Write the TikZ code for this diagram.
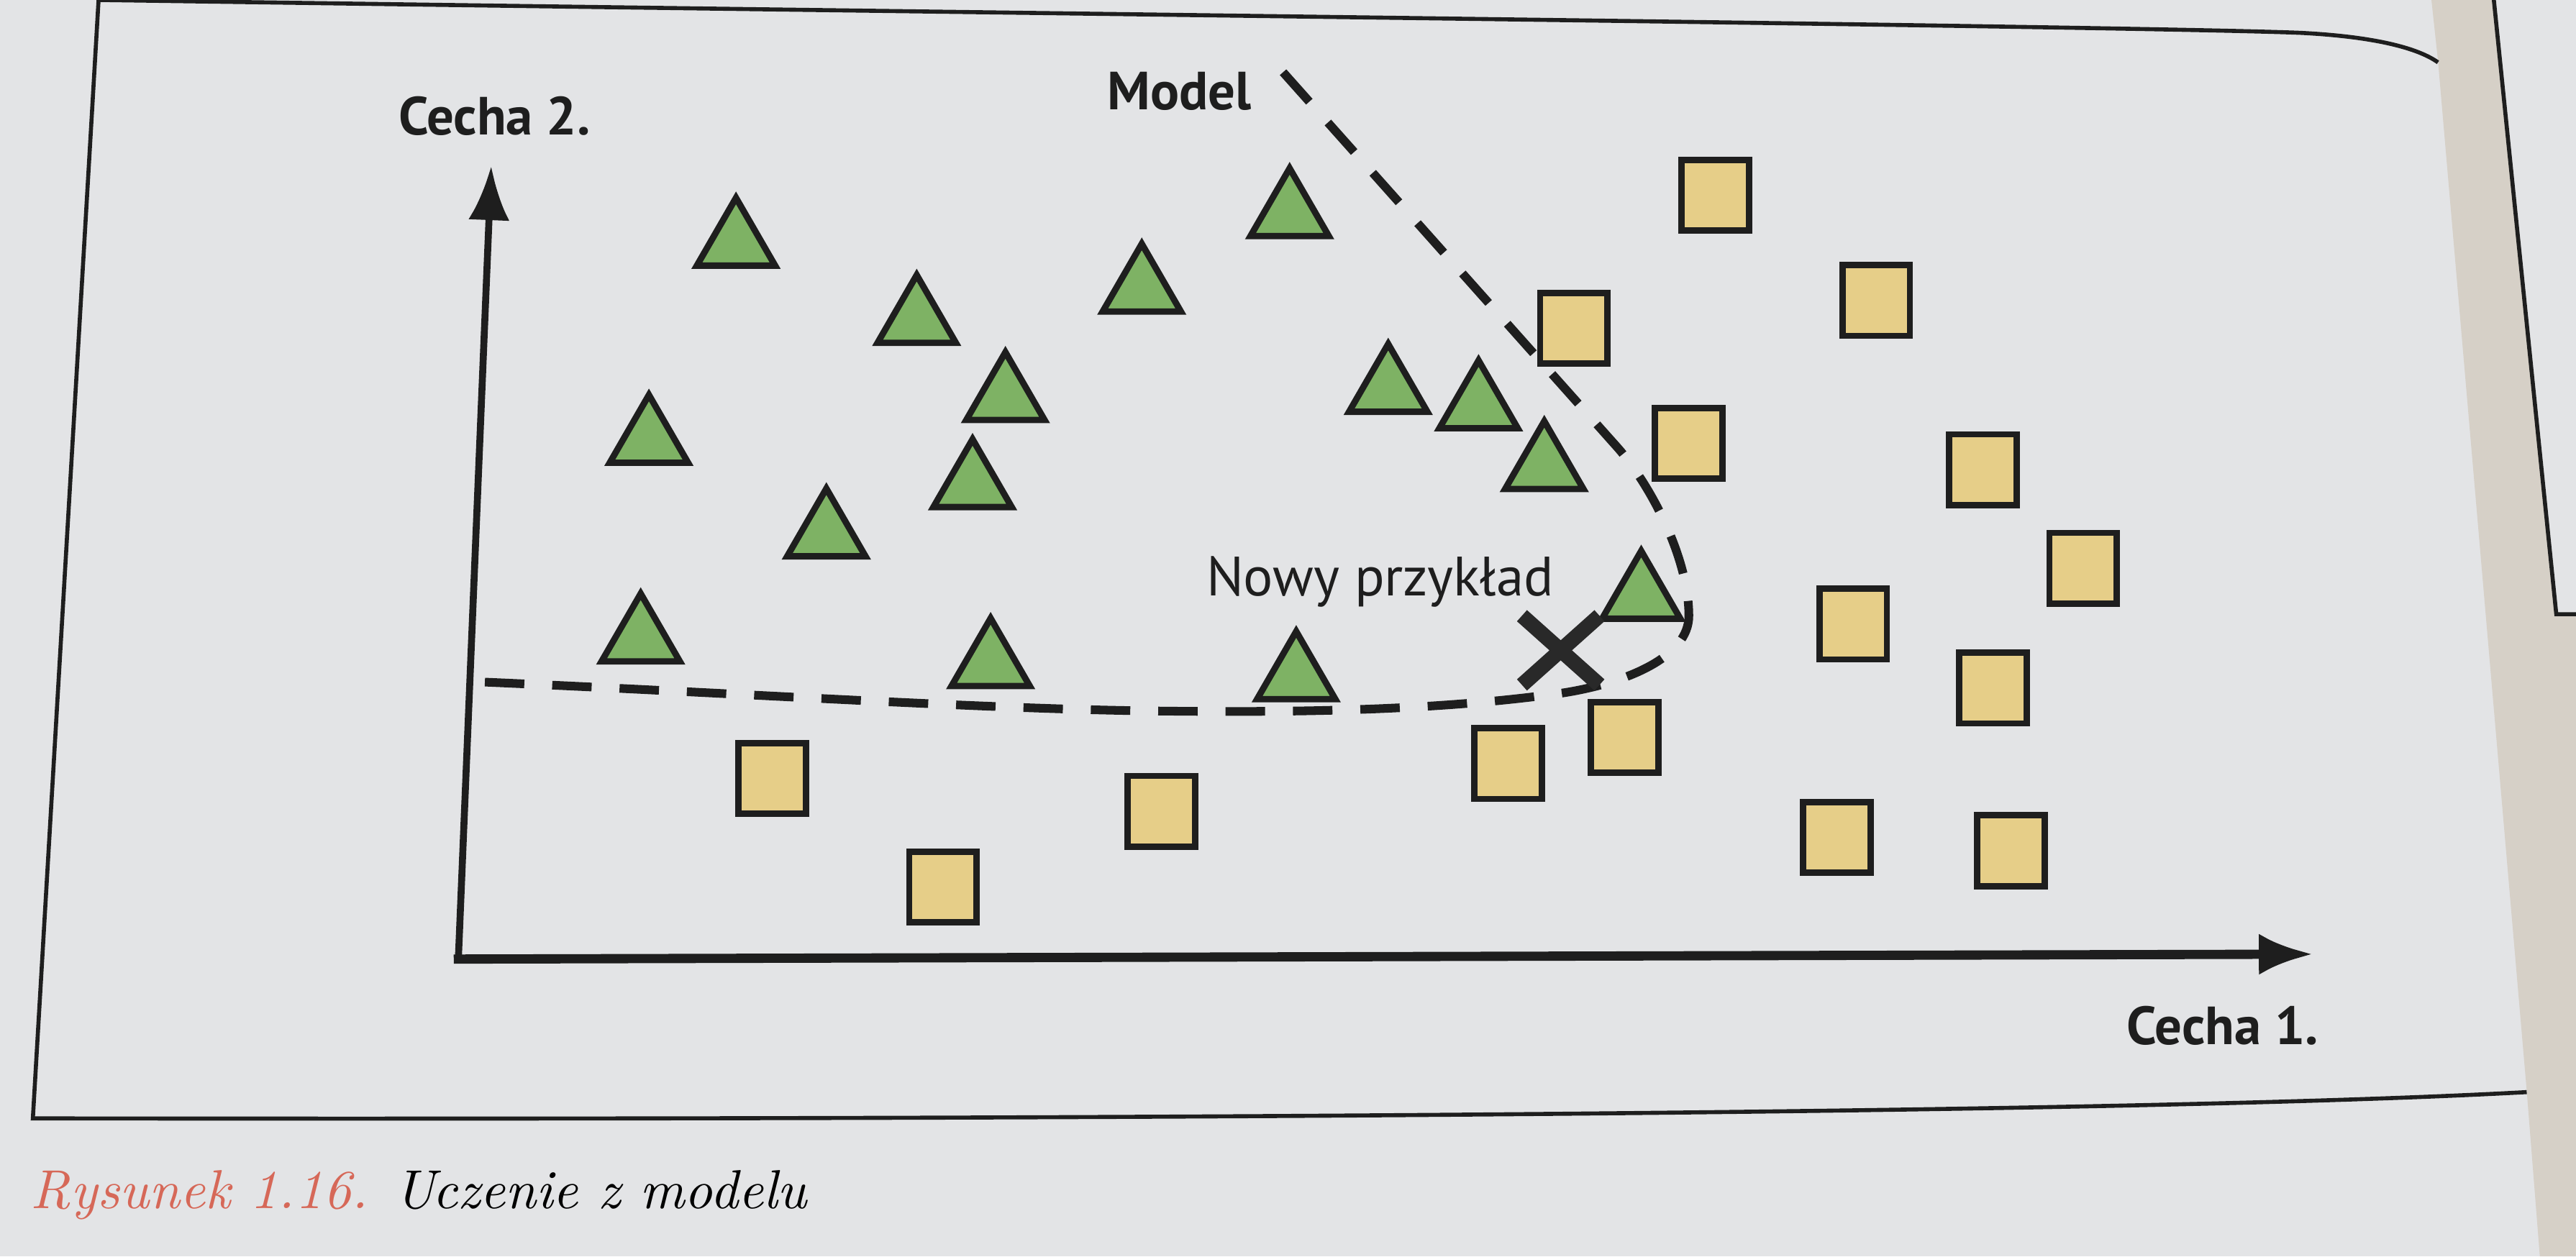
\documentclass[tikz,border=0pt]{standalone}
\usepackage{fontspec}
\setsansfont{PT Sans}
\usetikzlibrary{arrows.meta,shapes.geometric,shapes.misc}
\definecolor{paper}{RGB}{227,228,230}
\definecolor{gutter}{RGB}{214,208,199}
\definecolor{trigreen}{RGB}{126,178,100}
\definecolor{sqyellow}{RGB}{230,206,136}
\definecolor{ink}{RGB}{30,30,30}
\definecolor{capred}{RGB}{214,104,88}

\begin{document}
\begin{tikzpicture}[x=0.01cm, y=-0.01cm]
\tikzstyle{tri}=[regular polygon, regular polygon sides=3, minimum size=5.5mm, inner sep=0pt, fill=trigreen, draw=ink, line width=1.1pt]
\tikzstyle{sq}=[rectangle, minimum width=4.1mm, minimum height=4.3mm, inner sep=0pt, fill=sqyellow, draw=ink, line width=1.1pt]
\tikzstyle{axis}=[-{Latex[length=3.3mm,width=2.5mm]}, ink, line cap=rect]
\tikzstyle{boundary}=[ink, line width=1.5pt, dash pattern=on 2.4mm off 1.7mm]
\tikzstyle{lbl}=[font=\sffamily\bfseries\fontsize{9.3}{11}\selectfont, text=ink, inner sep=0pt, anchor=base]
\tikzstyle{frame}=[ink, line width=0.7pt]

  % page and gutter
  \useasboundingbox (0,0) rectangle (1568,765);
  \fill[paper] (0,0) rectangle (1568,765);
  \fill[gutter] (1480,0) -- (1484,37) -- (1538,664) -- (1546,765) -- (1568,765)
    -- (1568,374) -- (1556,374) -- (1518,0) -- cycle;

  % frame
  \draw[frame] (60,0) -- (20,681) .. controls (700,682) and (1300,678) .. (1538,665);
  \draw[frame] (60,0) .. controls (600,8) and (1300,16) .. (1400,20)
    .. controls (1440,22) and (1470,28) .. (1484,38);
  \draw[frame] (1518,0) -- (1556,374) -- (1568,374);

  % axes
  \coordinate (origin) at (279,584);
  \coordinate (ytip)   at (299,101);
  \coordinate (xtip)   at (1408,581);
  \draw[axis, line width=1.2pt] (origin) -- (ytip);
  \draw[axis, line width=1.6pt] (origin) -- (xtip);

  \node[lbl] (cecha2) at (301,82)  {Cecha 2.};
  \node[lbl] (cecha1) at (1353,636) {Cecha 1.};
  \node[lbl] (model)  at (718,67)  {Model};

  % model boundary
  \coordinate (bdtop)  at (781,44);
  \coordinate (bdleft) at (287,415);
  \draw[boundary] (bdtop) -- (985,273) .. controls (1005,296) and (1028,340) .. (1028,375)
    .. controls (1028,400) and (990,416) .. (951,422)
    .. controls (880,432) and (800,434) .. (709,433)
    .. controls (600,432) and (450,422) .. (bdleft);

  % triangles
  \node[tri] (tri1)  at (448,148) {};
  \node[tri] (tri2)  at (558,195) {};
  \node[tri] (tri3)  at (612,242) {};
  \node[tri] (tri4)  at (695,176) {};
  \node[tri] (tri5)  at (785,130) {};
  \node[tri] (tri6)  at (395,268) {};
  \node[tri] (tri7)  at (592,295) {};
  \node[tri] (tri8)  at (503,325) {};
  \node[tri] (tri9)  at (390,389) {};
  \node[tri] (tri10) at (603,404) {};
  \node[tri] (tri11) at (789,412) {};
  \node[tri] (tri12) at (845,237) {};
  \node[tri] (tri13) at (900,247) {};
  \node[tri] (tri14) at (940,284) {};
  \node[tri] (tri15) at (999,363) {};

  % squares
  \node[sq] (sq1)  at (1044,119) {};
  \node[sq] (sq2)  at (1142,183) {};
  \node[sq] (sq3)  at (958,200)  {};
  \node[sq] (sq4)  at (1028,270) {};
  \node[sq] (sq5)  at (1207,286) {};
  \node[sq] (sq6)  at (1268,346) {};
  \node[sq] (sq7)  at (1128,380) {};
  \node[sq] (sq8)  at (1213,419) {};
  \node[sq] (sq9)  at (989,449)  {};
  \node[sq] (sq10) at (918,465)  {};
  \node[sq] (sq11) at (1118,510) {};
  \node[sq] (sq12) at (1224,518) {};
  \node[sq] (sq13) at (470,474)  {};
  \node[sq] (sq14) at (574,540)  {};
  \node[sq] (sq15) at (707,494)  {};

  % new sample
  \node[lbl, font=\sffamily\fontsize{9.6}{11}\selectfont] (nowy) at (840,363) {Nowy przykład};
  \node[cross out, draw=ink!95, line width=2.6pt, minimum width=3.8mm, minimum height=3.3mm, inner sep=0pt] (newx) at (950,396) {};

  % caption
  \node[anchor=base west, inner sep=0pt, font=\rmfamily\itshape\fontsize{9.5}{11}\selectfont] (caption) at (18,736)
    {\textcolor{capred}{Rysunek 1.16.} Uczenie z modelu};

\end{tikzpicture}
\end{document}
